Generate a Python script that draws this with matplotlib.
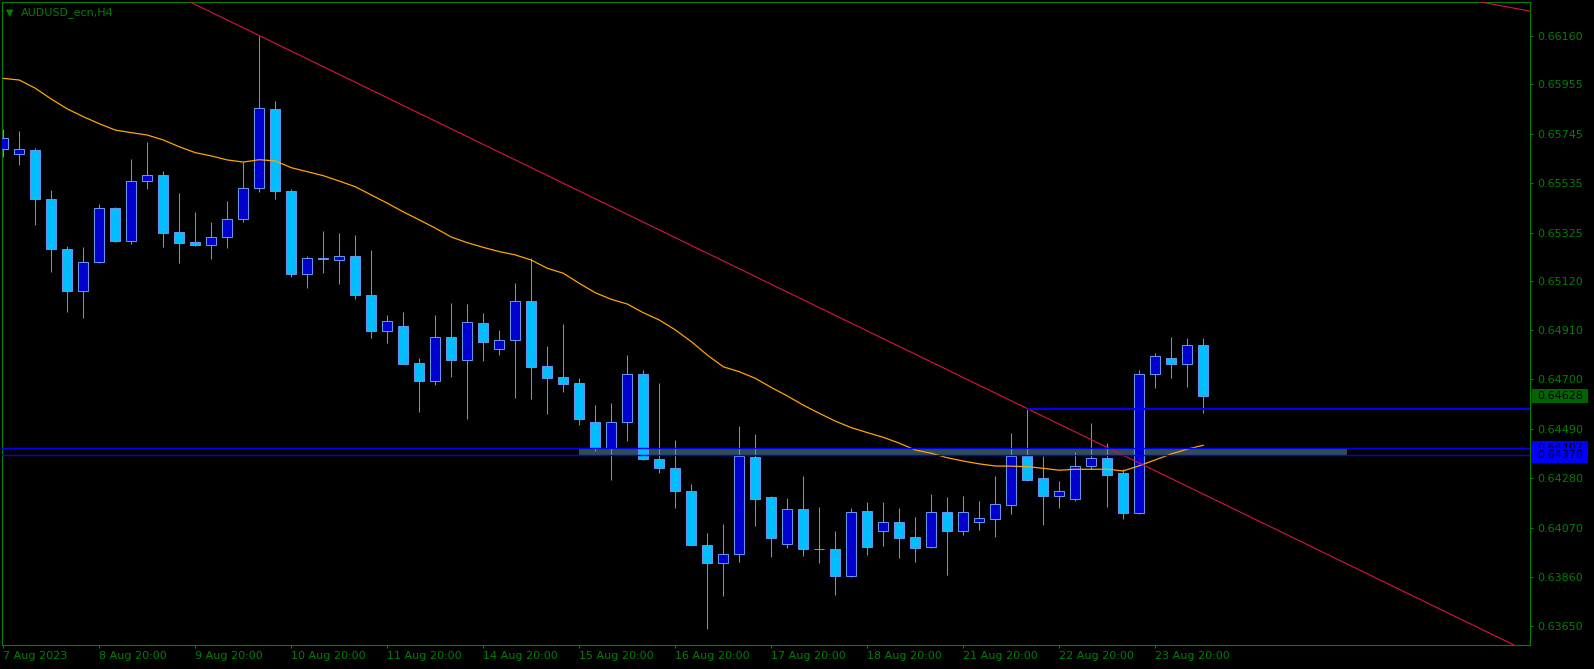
import matplotlib
matplotlib.use('Agg')
import matplotlib.pyplot as plt
from matplotlib.patches import Rectangle

# AUDUSD_ecn H4 candles (bar 0 = 7 Aug 20:00)
opens = [0.65679, 0.65658, 0.65675, 0.65467, 0.65254, 0.65078, 0.65199, 0.65428, 0.65290, 0.65543,
         0.65569, 0.65326, 0.65284, 0.65273, 0.65305, 0.65381, 0.65513, 0.65849, 0.65501, 0.65147,
         0.65216, 0.65207, 0.65224, 0.65058, 0.64905, 0.64926, 0.64769, 0.64695, 0.64879, 0.64784,
         0.64939, 0.64828, 0.64867, 0.65033, 0.64756, 0.64710, 0.64684, 0.64518, 0.64410, 0.64518,
         0.64722, 0.64363, 0.64325, 0.64227, 0.63997, 0.63921, 0.63956, 0.64369, 0.64199, 0.63999,
         0.64148, 0.63980, 0.63978, 0.63865, 0.64139, 0.64054, 0.64092, 0.64029, 0.63986, 0.64135,
         0.64057, 0.64092, 0.64108, 0.64165, 0.64373, 0.64280, 0.64203, 0.64193, 0.64331, 0.64365,
         0.64301, 0.64133, 0.64722, 0.64790, 0.64767, 0.64845]
highs = [0.65766, 0.65757, 0.65685, 0.65506, 0.65268, 0.65262, 0.65447, 0.65434, 0.65638, 0.65710,
         0.65587, 0.65493, 0.65413, 0.65370, 0.65459, 0.65624, 0.66163, 0.65885, 0.65510, 0.65225,
         0.65332, 0.65322, 0.65315, 0.65251, 0.64974, 0.64987, 0.64791, 0.64974, 0.65025, 0.65021,
         0.64983, 0.64911, 0.65110, 0.65217, 0.64842, 0.64936, 0.64706, 0.64591, 0.64600, 0.64804,
         0.64740, 0.64685, 0.64443, 0.64255, 0.64047, 0.64085, 0.64502, 0.64468, 0.64204, 0.64196,
         0.64289, 0.64158, 0.64055, 0.64153, 0.64179, 0.64179, 0.64153, 0.64115, 0.64213, 0.64200,
         0.64204, 0.64183, 0.64289, 0.64472, 0.64576, 0.64375, 0.64268, 0.64392, 0.64515, 0.64430,
         0.64318, 0.64740, 0.64813, 0.64881, 0.64877, 0.64877]
lows = [0.65648, 0.65614, 0.65359, 0.65159, 0.64988, 0.64963, 0.65195, 0.65286, 0.65278, 0.65512,
        0.65265, 0.65197, 0.65269, 0.65214, 0.65261, 0.65371, 0.65499, 0.65469, 0.65137, 0.65091,
        0.65154, 0.65108, 0.65044, 0.64877, 0.64857, 0.64765, 0.64562, 0.64678, 0.64712, 0.64532,
        0.64779, 0.64804, 0.64623, 0.64617, 0.64554, 0.64647, 0.64508, 0.64397, 0.64274, 0.64440,
        0.64359, 0.64303, 0.64155, 0.63995, 0.63639, 0.63780, 0.63925, 0.64078, 0.63946, 0.63984,
        0.63950, 0.63921, 0.63784, 0.63861, 0.63955, 0.63993, 0.63942, 0.63925, 0.63984, 0.63870,
        0.64040, 0.64061, 0.64031, 0.64129, 0.64269, 0.64082, 0.64155, 0.64184, 0.64320, 0.64159,
        0.64108, 0.64129, 0.64664, 0.64708, 0.64668, 0.64559]
closes = [0.65726, 0.65679, 0.65467, 0.65254, 0.65078, 0.65199, 0.65428, 0.65290, 0.65543, 0.65569,
          0.65324, 0.65282, 0.65273, 0.65305, 0.65381, 0.65513, 0.65854, 0.65501, 0.65147, 0.65216,
          0.65212, 0.65224, 0.65058, 0.64905, 0.64948, 0.64767, 0.64695, 0.64879, 0.64784, 0.64943,
          0.64861, 0.64867, 0.65033, 0.64754, 0.64708, 0.64682, 0.64533, 0.64410, 0.64518, 0.64722,
          0.64363, 0.64325, 0.64227, 0.63997, 0.63921, 0.63956, 0.64373, 0.64193, 0.64027, 0.64148,
          0.63980, 0.63978, 0.63865, 0.64135, 0.63989, 0.64092, 0.64027, 0.63984, 0.64135, 0.64057,
          0.64135, 0.64109, 0.64169, 0.64373, 0.64274, 0.64206, 0.64224, 0.64331, 0.64365, 0.64295,
          0.64133, 0.64722, 0.64799, 0.64767, 0.64845, 0.64628]

# orange moving average, one value per bar
ma = [0.65981, 0.65974, 0.65939, 0.65893, 0.65851, 0.65818, 0.65788, 0.65761, 0.65750, 0.65740,
      0.65719, 0.65690, 0.65665, 0.65651, 0.65634, 0.65625, 0.65635, 0.65630, 0.65601, 0.65584,
      0.65567, 0.65544, 0.65520, 0.65485, 0.65450, 0.65413, 0.65379, 0.65344, 0.65306, 0.65282,
      0.65262, 0.65244, 0.65230, 0.65208, 0.65173, 0.65152, 0.65109, 0.65069, 0.65041, 0.65021,
      0.64984, 0.64953, 0.64911, 0.64861, 0.64804, 0.64754, 0.64733, 0.64705, 0.64666, 0.64630,
      0.64591, 0.64556, 0.64523, 0.64495, 0.64474, 0.64454, 0.64429, 0.64400, 0.64386, 0.64367,
      0.64353, 0.64341, 0.64332, 0.64331, 0.64329, 0.64322, 0.64314, 0.64318, 0.64318, 0.64318,
      0.64311, 0.64333, 0.64358, 0.64383, 0.64404, 0.64420]

date_bars = [0, 6, 12, 18, 24, 30, 36, 42, 48, 54, 60, 66, 72]
date_labels = ['7 Aug 2023', '8 Aug 20:00', '9 Aug 20:00', '10 Aug 20:00', '11 Aug 20:00',
               '14 Aug 20:00', '15 Aug 20:00', '16 Aug 20:00', '17 Aug 20:00', '18 Aug 20:00',
               '21 Aug 20:00', '22 Aug 20:00', '23 Aug 20:00']
price_ticks = [0.66160, 0.65955, 0.65745, 0.65535, 0.65325, 0.65120, 0.64910,
               0.64700, 0.64490, 0.64280, 0.64070, 0.63860, 0.63650]

# drawn objects
trend_pts = [(16, 0.66163), (64, 0.64576)]
trend2_pts = [(92.66, 0.66302), (95.42, 0.66267)]
ray_bar, ray_price = 64, 0.64576
zone_lo, zone_hi = 0.64378, 0.64407
zone_from, zone_to = 36, 84
last_price = 0.64628

GREEN = '#008000'
BULL = '#0000CD'
BEAR = '#00BFFF'
WICK = '#6495ED'

fig = plt.figure(figsize=(15.94, 6.69), dpi=100, facecolor='black')
ax = fig.add_axes([2/1594, 24/669, 1528/1594, 643/669], facecolor='black')

# support zone rectangle
ax.add_patch(Rectangle((zone_from, zone_lo), zone_to - zone_from, zone_hi - zone_lo,
                       facecolor='#2F4F4F', edgecolor='none', zorder=1))

# candles
w = 0.6
for i in range(len(opens)):
    o, h, l, c = opens[i], highs[i], lows[i], closes[i]
    ax.vlines(i, l, h, color=WICK, lw=0.75, zorder=2)
    fc = BULL if c > o else BEAR
    ax.add_patch(Rectangle((i - w/2, min(o, c)), w, abs(c - o), facecolor=fc,
                           edgecolor=WICK, lw=0.75, zorder=3))

ax.plot(range(len(ma)), ma, color='#FFA500', lw=0.9, zorder=4)

ax.axline(trend_pts[0], trend_pts[1], color='#DC143C', lw=0.8, zorder=5)
ax.axline(trend2_pts[0], trend2_pts[1], color='#DC143C', lw=0.8, zorder=5)
ax.hlines(ray_price, ray_bar, 200, color='#0000FF', lw=1.5, zorder=5)
ax.axhline(zone_hi, color='#0000FF', lw=1.0, zorder=5)
ax.axhline(zone_lo, color='#0000FF', lw=1.0, zorder=5)

ax.set_xlim(-0.081, 95.42)
ax.set_ylim(0.635704, 0.663059)

for s in ax.spines.values():
    s.set_color(GREEN)
    s.set_linewidth(0.8)

ax.yaxis.tick_right()
ax.set_yticks(price_ticks)
ax.set_yticklabels(['%.5f' % p for p in price_ticks])
ax.set_xticks(date_bars)
ax.set_xticklabels(date_labels)
for lab in ax.get_xticklabels():
    lab.set_ha('left')
ax.tick_params(axis='both', colors=GREEN, labelcolor=GREEN, labelsize=8,
               direction='out', length=2.5, width=0.8)
ax.tick_params(axis='x', pad=2)
ax.tick_params(axis='y', pad=3)

# price labels at the right scale
ytr = ax.get_yaxis_transform()
box_h = 0.000596
bx, bw = 1.0013, 0.0367
ax.add_patch(Rectangle((bx, last_price - box_h/2), bw, box_h, transform=ytr,
                       facecolor='#006400', edgecolor='none', clip_on=False, zorder=6))
ax.text(1.0046, last_price, '%.5f' % last_price, transform=ytr, color='black',
        fontsize=8, va='center', ha='left', clip_on=False, zorder=7)
# the lower zone label is drawn over the upper one, as on the terminal
for p in [zone_hi, zone_lo]:
    ax.add_patch(Rectangle((bx, p - box_h/2 - 0.00003), bw, box_h + 0.00003, transform=ytr,
                           facecolor='#0000FF', edgecolor='none', clip_on=False, zorder=6))
    ax.text(1.0046, p, '%.5f' % p, transform=ytr, color='black',
            fontsize=8, va='center', ha='left', clip_on=False, zorder=6)

# symbol caption
ax.text(0.0026, 0.9834, '\u25BC', transform=ax.transAxes, color=GREEN, fontsize=7,
        va='center', ha='left')
ax.text(0.0124, 0.9834, 'AUDUSD_ecn,H4', transform=ax.transAxes, color=GREEN, fontsize=8,
        va='center', ha='left')

fig.savefig('out.png', dpi=100, facecolor='black')
